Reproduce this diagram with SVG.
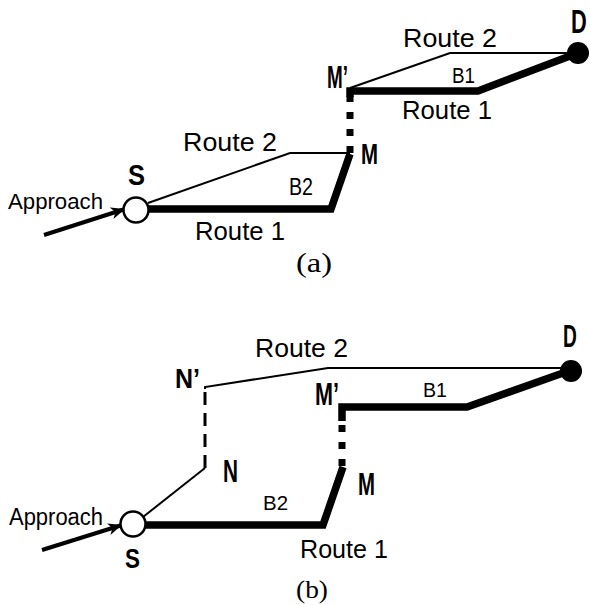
<svg xmlns="http://www.w3.org/2000/svg" width="590" height="605" viewBox="0 0 590 605">
  <style>
    .lbl { font-family: "Liberation Sans", "DejaVu Sans", sans-serif; fill: #000; }
    .node { font-family: "Liberation Sans", "DejaVu Sans", sans-serif; font-weight: bold; fill: #000; }
    .cap { font-family: "Liberation Serif", "DejaVu Serif", serif; fill: #000; }
    .thin { fill: none; stroke: #000; stroke-width: 2; stroke-linejoin: miter; }
    .thick { fill: none; stroke: #000; stroke-width: 7.5; stroke-linejoin: miter; }
    .dotted { fill: none; stroke: #000; stroke-width: 7; stroke-dasharray: 7 10; }
    .dashed { fill: none; stroke: #000; stroke-width: 3; stroke-dasharray: 13 8; }
    .approach { fill: none; stroke: #000; stroke-width: 4; }
    .origin { fill: #fff; stroke: #000; stroke-width: 2.5; }
    .dest { fill: #000; stroke: none; }
  </style>
  <defs>
    <marker id="arrow" markerUnits="userSpaceOnUse" markerWidth="16" markerHeight="14" refX="14" refY="7" orient="auto">
      <path d="M0,1 L14,7 L0,13 L4,7 Z" fill="#000"/>
    </marker>
  </defs>

  <rect width="590" height="605" fill="#fff"/>

  <!-- (a) -->
  <g id="connectors-a">
    <line class="approach" x1="44" y1="235" x2="125" y2="209" marker-end="url(#arrow)"/>
    <!-- route 1, heavy -->
    <path class="thick" d="M149,209 L331,209 L350,154"/>
    <path class="thick" d="M350,97 L350,91 L478,91 L570,56"/>
    <!-- M to M' link -->
    <line class="dotted" x1="350" y1="153" x2="350" y2="96"/>
    <!-- route 2, light -->
    <path class="thin" d="M148,203 L290,153 L350,153"/>
    <path class="thin" d="M350,88 L450,53 L578,53"/>
  </g>
  <g id="node-S-a">
    <circle class="origin" cx="136" cy="210" r="12.5"/>
    <text class="node" x="128" y="185" font-size="30" textLength="17" lengthAdjust="spacingAndGlyphs">S</text>
  </g>
  <g id="node-M-a">
    <text class="node" x="361" y="164" font-size="30" textLength="17" lengthAdjust="spacingAndGlyphs">M</text>
  </g>
  <g id="node-Mp-a">
    <text class="node" x="327" y="88" font-size="31" textLength="21" lengthAdjust="spacingAndGlyphs">M’</text>
  </g>
  <g id="node-D-a">
    <circle class="dest" cx="578" cy="53" r="11"/>
    <text class="node" transform="translate(571,33) scale(0.66,1)" font-size="33">D</text>
  </g>
  <g id="labels-a">
    <text class="lbl" x="8" y="209" font-size="22" textLength="95" lengthAdjust="spacingAndGlyphs">Approach</text>
    <text class="lbl" x="183" y="151" font-size="26" textLength="94" lengthAdjust="spacingAndGlyphs">Route 2</text>
    <text class="lbl" x="195" y="240" font-size="26" textLength="90" lengthAdjust="spacingAndGlyphs">Route 1</text>
    <text class="lbl" x="289" y="195" font-size="24" textLength="24" lengthAdjust="spacingAndGlyphs">B2</text>
    <text class="lbl" x="403" y="47" font-size="26" textLength="94" lengthAdjust="spacingAndGlyphs">Route 2</text>
    <text class="lbl" x="402" y="119" font-size="26" textLength="90" lengthAdjust="spacingAndGlyphs">Route 1</text>
    <text class="lbl" x="452" y="83" font-size="22" textLength="23" lengthAdjust="spacingAndGlyphs">B1</text>
    <text class="cap" x="296" y="272" font-size="28" textLength="36" lengthAdjust="spacingAndGlyphs">(a)</text>
  </g>

  <!-- (b) -->
  <g id="connectors-b">
    <line class="approach" x1="42" y1="550" x2="122" y2="525" marker-end="url(#arrow)"/>
    <!-- route 1, heavy -->
    <path class="thick" d="M146,525 L323,525 L343,467"/>
    <path class="thick" d="M342,421 L342,407 L467,407 L563,373"/>
    <!-- M to M' link -->
    <line class="dotted" x1="342" y1="466" x2="342" y2="421"/>
    <!-- route 2, light -->
    <path class="thin" d="M143,517 L205,468"/>
    <line class="dashed" x1="205" y1="468" x2="205" y2="387"/>
    <path class="thin" d="M205,389 L205,387 L328,368 L571,368"/>
  </g>
  <g id="node-S-b">
    <circle class="origin" cx="133" cy="524" r="12.5"/>
    <text class="node" x="125" y="568" font-size="28" textLength="15" lengthAdjust="spacingAndGlyphs">S</text>
  </g>
  <g id="node-N-b">
    <text class="node" x="223" y="482" font-size="31" textLength="15" lengthAdjust="spacingAndGlyphs">N</text>
  </g>
  <g id="node-Np-b">
    <text class="node" x="175" y="388" font-size="28" textLength="25" lengthAdjust="spacingAndGlyphs">N’</text>
  </g>
  <g id="node-M-b">
    <text class="node" x="358" y="495" font-size="31" textLength="17" lengthAdjust="spacingAndGlyphs">M</text>
  </g>
  <g id="node-Mp-b">
    <text class="node" x="315" y="405" font-size="32" textLength="24" lengthAdjust="spacingAndGlyphs">M’</text>
  </g>
  <g id="node-D-b">
    <circle class="dest" cx="571" cy="371" r="11"/>
    <text class="node" transform="translate(563,347) scale(0.6,1)" font-size="32">D</text>
  </g>
  <g id="labels-b">
    <text class="lbl" x="9" y="525" font-size="23" textLength="94" lengthAdjust="spacingAndGlyphs">Approach</text>
    <text class="lbl" x="255" y="357" font-size="26" textLength="93" lengthAdjust="spacingAndGlyphs">Route 2</text>
    <text class="lbl" x="300" y="558" font-size="26" textLength="88" lengthAdjust="spacingAndGlyphs">Route 1</text>
    <text class="lbl" x="263" y="510" font-size="21" textLength="25" lengthAdjust="spacingAndGlyphs">B2</text>
    <text class="lbl" x="423" y="397" font-size="20" textLength="24" lengthAdjust="spacingAndGlyphs">B1</text>
    <text class="cap" x="296" y="598" font-size="26" textLength="32" lengthAdjust="spacingAndGlyphs">(b)</text>
  </g>
</svg>
